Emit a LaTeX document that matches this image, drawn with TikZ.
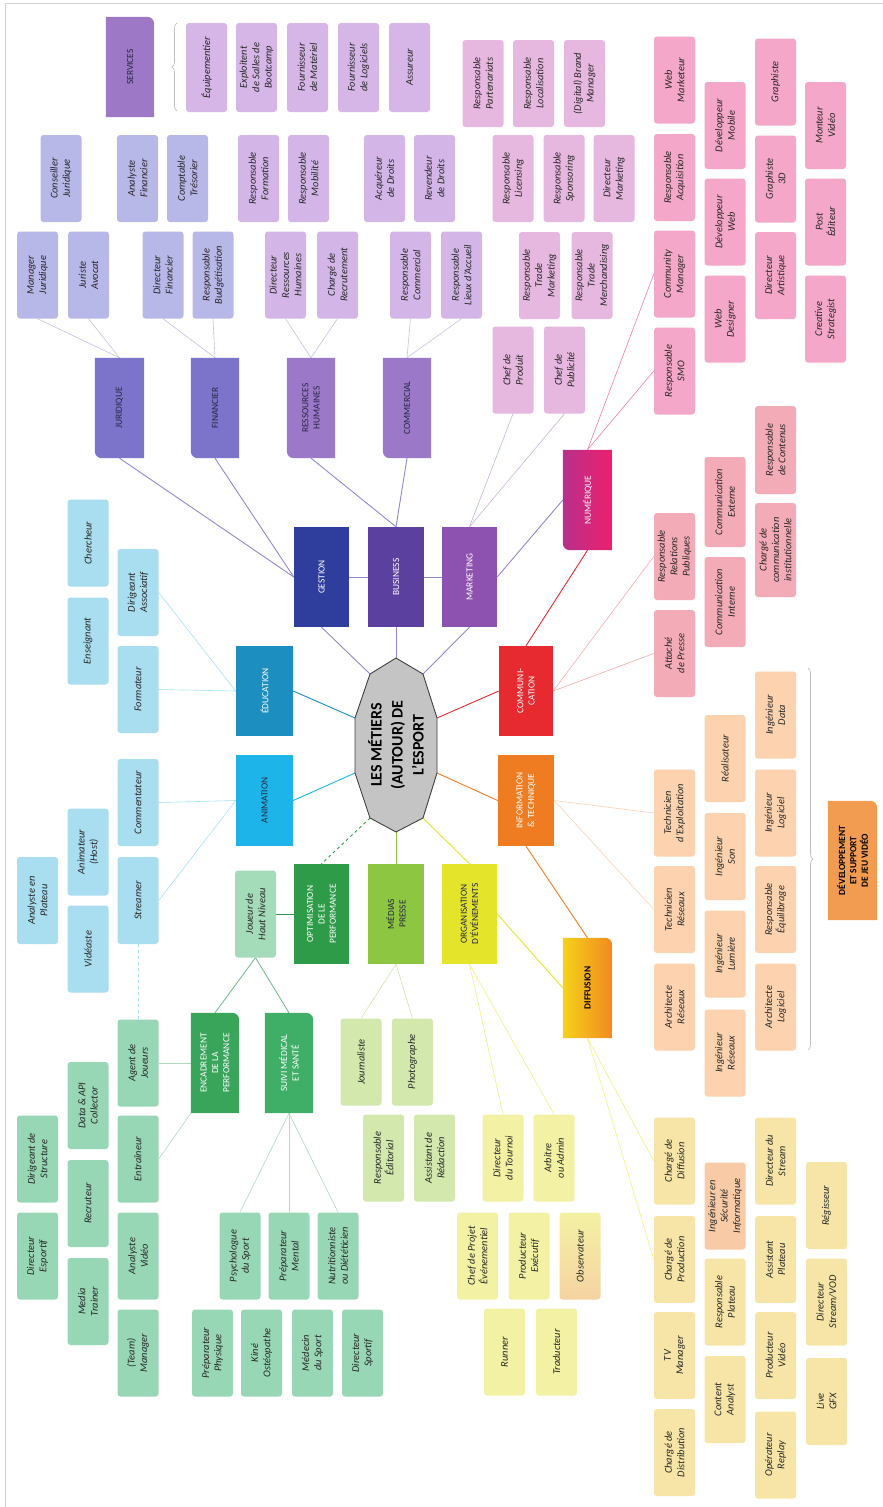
\documentclass[tikz,border=0pt]{standalone}
\usepackage{fontspec}
\setmainfont{Carlito}
\usetikzlibrary{decorations.pathreplacing}
\pgfdeclarelayer{wires}
\pgfdeclarelayer{plates}
\pgfsetlayers{wires,plates,main}

\definecolor{cSvc}{HTML}{9D78C6}
\definecolor{cSvcL}{HTML}{D5B6E6}
\definecolor{cJur}{HTML}{7C74CA}
\definecolor{cJurL}{HTML}{B7B7E8}
\definecolor{cRh}{HTML}{9C78C8}
\definecolor{cRhL}{HTML}{D3B6E7}
\definecolor{cGes}{HTML}{2F3E9C}
\definecolor{cBus}{HTML}{5C40A0}
\definecolor{cMkt}{HTML}{8D52B0}
\definecolor{cMktL}{HTML}{E6B7DF}
\definecolor{cNumA}{HTML}{B8308A}
\definecolor{cNumB}{HTML}{EC1F6E}
\definecolor{cNumL}{HTML}{F4A7C8}
\definecolor{cCom}{HTML}{E62A30}
\definecolor{cComL}{HTML}{F4ABB8}
\definecolor{cInf}{HTML}{F07C22}
\definecolor{cInfL}{HTML}{FCD3AE}
\definecolor{cDev}{HTML}{F29C52}
\definecolor{cDifA}{HTML}{F6D21C}
\definecolor{cDifB}{HTML}{F08A1E}
\definecolor{cDifL}{HTML}{F6E5A6}
\definecolor{cOrg}{HTML}{E4E52B}
\definecolor{cOrgL}{HTML}{F3F1A3}
\definecolor{cObs}{HTML}{F6D3A2}
\definecolor{cMed}{HTML}{8DC641}
\definecolor{cMedL}{HTML}{D2E8AC}
\definecolor{cOpt}{HTML}{2D9B48}
\definecolor{cEnc}{HTML}{38A55B}
\definecolor{cSui}{HTML}{3FAE67}
\definecolor{cPerfL}{HTML}{98D7B5}
\definecolor{cJou}{HTML}{A4DCBA}
\definecolor{cEdu}{HTML}{1C8EC0}
\definecolor{cAni}{HTML}{1DB5E9}
\definecolor{cAniL}{HTML}{A9DDF0}
\definecolor{cSec}{HTML}{F8CBA6}
\definecolor{cCtr}{HTML}{C4C4C4}
\definecolor{cDark}{HTML}{262640}

\newcommand\leaffont{\itshape\fontsize{10.4}{12.4}\selectfont}
\newcommand\catfont{\fontsize{9.4}{11.4}\selectfont}
\newcommand\hubfont{\bfseries\fontsize{16}{21}\selectfont}
% plates with a single rounded corner (bottom-left / top-right as drawn on the page)
\newcommand\plateBL[2]{\fill[#2] (#1.north east) -- (#1.south east) -- (#1.south west) [rounded corners=7pt] -- (#1.north west) [sharp corners] -- cycle;}
\newcommand\plateTR[2]{\fill[#2] (#1.north east) [rounded corners=7pt] -- (#1.south east) [sharp corners] -- (#1.south west) -- (#1.north west) -- cycle;}

\tikzset{
  leaf/.style={rectangle, rounded corners=3pt, rotate=90, minimum width=87, minimum height=41,
    inner sep=1pt, align=center, text=black!85, font=\leaffont},
  lfSvc/.style={leaf, fill=cSvcL, minimum width=89},
  lfJur/.style={leaf, fill=cJurL},
  lfRh/.style={leaf, fill=cRhL},
  lfMkt/.style={leaf, fill=cMktL},
  lfNum/.style={leaf, fill=cNumL},
  lfCom/.style={leaf, fill=cComL},
  lfInf/.style={leaf, fill=cInfL},
  lfDif/.style={leaf, fill=cDifL},
  lfOrg/.style={leaf, fill=cOrgL},
  lfMed/.style={leaf, fill=cMedL},
  lfPerf/.style={leaf, fill=cPerfL},
  lfAni/.style={leaf, fill=cAniL},
  cat/.style={rectangle, rotate=90, inner sep=1pt, align=center, font=\catfont, text=white},
  sz/.style 2 args={minimum width=#1, minimum height=#2},
  hub/.style={rotate=90, align=center, font=\hubfont, text=black, inner sep=0pt},
  hubshape/.style={fill=cCtr, draw=black!75, line width=0.9pt, line join=round},
  lnGes/.style={draw=cJur!85, line width=0.9pt},
  lnGesL/.style={draw=cJur!45, line width=0.6pt},
  lnMktL/.style={draw=cMkt!45, line width=0.6pt},
  lnCom/.style={draw=cCom, line width=0.9pt},
  lnComL/.style={draw=cCom!40, line width=0.6pt},
  lnNumL/.style={draw=cNumB!60, line width=0.6pt},
  lnEdu/.style={draw=cEdu, line width=0.9pt},
  lnAni/.style={draw=cAni, line width=0.9pt},
  lnEduL/.style={draw=cAni!40, line width=0.6pt},
  lnOpt/.style={draw=cOpt, line width=0.9pt},
  lnPerf/.style={draw=cEnc!75, line width=0.8pt},
  lnPerfL/.style={draw=cEnc!40, line width=0.6pt},
  lnMed/.style={draw=cMed, line width=0.9pt},
  lnMedL/.style={draw=cMed!45, line width=0.6pt},
  lnOrg/.style={draw=cOrg, line width=0.9pt},
  lnOrgL/.style={draw=cOrg!60, line width=0.6pt},
  lnInf/.style={draw=cInf, line width=0.9pt},
  lnInfL/.style={draw=cInf!35, line width=0.6pt},
  brc/.style={draw=black!25, line width=0.7pt, decorate, decoration={brace, amplitude=5pt}},
  pageframe/.style={draw=black!18, line width=1pt}
}

\begin{document}
\begin{tikzpicture}[x=1pt, y=-1pt]
\useasboundingbox (0,0) rectangle (883,1507);
\draw[pageframe] (5,1507) -- (5,3) -- (883,3);

% ---------- hub ----------
\coordinate (ptop) at (396,658);
\coordinate (pur) at (423,674);
\coordinate (pr1) at (437,718);
\coordinate (pr2) at (437,773);
\coordinate (plr) at (423,818);
\coordinate (pbot) at (396,832);
\coordinate (pll) at (370,818);
\coordinate (pl2) at (355,773);
\coordinate (pl1) at (355,718);
\coordinate (pul) at (370,674);
\node[hub] (ctr) at (396,745) {LES MÉTIERS\\(AUTOUR) DE\\L'ESPORT};

% ---------- services ----------
\node[cat, sz={100}{48}, text=cDark] (svc) at (130,67) {SERVICES};
\node[lfSvc] (equip) at (206.5,67.5) {Équipementier};
\node[lfSvc] (exploit) at (256.5,67.5) {Exploitent\\de Salles de\\Bootcamp};
\node[lfSvc] (fmat) at (307.5,67.5) {Fournisseur\\de Matériel};
\node[lfSvc] (flog) at (358.5,67.5) {Fournisseur\\de Logiciels};
\node[lfSvc] (assur) at (409.5,67.5) {Assureur};

% ---------- gestion ----------
\node[cat, sz={100}{55}, fill=cGes] (gestion) at (321.5,577) {GESTION};
\node[cat, sz={100}{49}, text=cDark] (juridique) at (119.5,408) {JURIDIQUE};
\node[cat, sz={100}{48}, text=cDark] (financier) at (215,408) {FINANCIER};
\node[lfJur] (conseil) at (61,178.5) {Conseiller\\Juridique};
\node[lfJur] (anafin) at (137.5,178.5) {Analyste\\Financier};
\node[lfJur] (comptable) at (187.5,178.5) {Comptable\\Trésorier};
\node[lfJur] (manjur) at (37.5,275) {Manager\\Juridique};
\node[lfJur] (juriste) at (88.5,275) {Juriste\\Avocat};
\node[lfJur] (dirfin) at (163,275) {Directeur\\Financier};
\node[lfJur] (budget) at (213,275) {Responsable\\Budgétisation};

% ---------- business ----------
\node[cat, sz={100}{56}, fill=cBus] (business) at (396,577) {BUSINESS};
\node[cat, sz={100}{48}, text=cDark] (rh) at (311,408) {RESSOURCES\\HUMAINES};
\node[cat, sz={100}{48}, text=cDark] (commercial) at (407,408) {COMMERCIAL};
\node[lfRh] (formation) at (258.5,178.5) {Responsable\\Formation};
\node[lfRh] (mobilite) at (308.5,178.5) {Responsable\\Mobilité};
\node[lfRh] (acqdroits) at (384.5,178.5) {Acquéreur\\de Droits};
\node[lfRh] (revdroits) at (434.5,178.5) {Revendeur\\de Droits};
\node[lfRh] (dirrh) at (285.5,275) {Directeur\\Ressources\\Humaines};
\node[lfRh] (recrut) at (337.5,275) {Chargé de\\Recrutement};
\node[lfRh] (respcom) at (410.5,275) {Responsable\\Commercial};
\node[lfRh] (lieux) at (461.5,275) {Responsable\\Lieux d'Accueil};

% ---------- marketing ----------
\node[cat, sz={100}{55}, fill=cMkt] (marketing) at (469.5,577) {MARKETING};
\node[lfMkt] (partenariats) at (483,83.5) {Responsable\\Partenariats};
\node[lfMkt] (localisation) at (533.5,83.5) {Responsable\\Localisation};
\node[lfMkt] (brand) at (584.5,83.5) {(Digital) Brand\\Manager};
\node[lfMkt] (licensing) at (513,178.5) {Responsable\\Licensing};
\node[lfMkt] (sponsoring) at (564,178.5) {Responsable\\Sponsoring};
\node[lfMkt] (dirmkt) at (614,178.5) {Directeur\\Marketing};
\node[lfMkt] (trademkt) at (539.5,275.5) {Responsable\\Trade\\Marketing};
\node[lfMkt] (trademerch) at (592,275.5) {Responsable\\Trade\\Merchandising};
\node[lfMkt] (chefprod) at (513,370) {Chef de\\Produit};
\node[lfMkt] (chefpub) at (564.5,370) {Chef de\\Publicité};

% ---------- numérique ----------
\node[cat, sz={100}{49}] (numerique) at (587.5,500) {NUMÉRIQUE};
\node[lfNum] (webmkt) at (674.5,80) {Web\\Marketeur};
\node[lfNum] (acquisition) at (674.5,177.5) {Responsable\\Acquisition};
\node[lfNum] (community) at (674.5,274) {Community\\Manager};
\node[lfNum] (smo) at (674.5,371) {Responsable\\SMO};
\node[lfNum] (devmobile) at (725,125.5) {Développeur\\Mobile};
\node[lfNum] (devweb) at (725,222) {Développeur\\Web};
\node[lfNum] (webdesign) at (725,319) {Web\\Designer};
\node[lfNum] (graphiste) at (775.5,82) {Graphiste};
\node[lfNum] (graph3d) at (775.5,179) {Graphiste\\3D};
\node[lfNum] (dirart) at (775.5,275.5) {Directeur\\Artistique};
\node[lfNum] (monteur) at (825.5,125.5) {Monteur\\Vidéo};
\node[lfNum] (posted) at (825.5,222) {Post\\Éditeur};
\node[lfNum] (creative) at (825.5,319) {Creative\\Strategist};

% ---------- communication ----------
\node[cat, sz={90}{54}, fill=cCom] (communication) at (526,691) {COMMUNI-\\CATION};
\node[lfCom] (rrp) at (674.5,556.5) {Responsable\\Relations\\Publiques};
\node[lfCom] (attache) at (674.5,653.5) {Attaché\\de Presse};
\node[lfCom, minimum width=90] (comext) at (725,502) {Communication\\Externe};
\node[lfCom, minimum width=90] (comint) at (725,602) {Communication\\Interne};
\node[lfCom, minimum width=88] (contenus) at (775.5,450) {Responsable\\de Contenus};
\node[lfCom, minimum width=94] (institution) at (775.5,550) {Chargé de\\communication\\institutionnelle};

% ---------- information & technique ----------
\node[cat, sz={91}{56}, fill=cInf] (information) at (526,800.5) {INFORMATION\\\& TECHNIQUE};
\node[lfInf] (ingdata) at (775.5,715) {Ingénieur\\Data};
\node[lfInf] (realisateur) at (725,758.5) {Réalisateur};
\node[lfInf] (techexpl) at (674.5,813) {Technicien\\d'Exploitation};
\node[lfInf] (techres) at (674.5,909.5) {Technicien\\Réseaux};
\node[lfInf] (archres) at (674.5,1007) {Architecte\\Réseaux};
\node[lfInf] (ingson) at (725,856.5) {Ingénieur\\Son};
\node[lfInf] (inglum) at (725,954) {Ingénieur\\Lumière};
\node[lfInf] (ingres) at (725,1053) {Ingénieur\\Réseaux};
\node[lfInf] (inglog) at (775.5,813) {Ingénieur\\Logiciel};
\node[lfInf] (equilibrage) at (775.5,909.5) {Responsable\\Équilibrage};
\node[lfInf] (archlog) at (775.5,1007) {Architecte\\Logiciel};
\node[cat, sz={119}{49}, text=black, font=\catfont\bfseries] (devjeu) at (852.5,860.5) {DÉVELOPPEMENT\\ET SUPPORT\\DE JEU VIDÉO};

% ---------- diffusion ----------
\node[cat, sz={100}{49}, text=black, font=\catfont\bfseries] (diffusion) at (587.5,988) {DIFFUSION};
\node[lfDif] (chargediff) at (674.5,1161) {Chargé de\\Diffusion};
\node[lfDif] (chargeprod) at (674.5,1259.5) {Chargé de\\Production};
\node[lfDif] (tvman) at (674.5,1355.5) {TV\\Manager};
\node[lfDif] (chargedist) at (674.5,1452.5) {Chargé de\\Distribution};
\node[leaf, fill=cSec] (secu) at (725,1206) {Ingénieur en\\Sécurité\\Informatique};
\node[lfDif] (respplateau) at (725,1302) {Responsable\\Plateau};
\node[lfDif] (content) at (725,1399.5) {Content\\Analyst};
\node[lfDif] (dirstream) at (775.5,1161) {Directeur du\\Stream};
\node[lfDif] (assplateau) at (775.5,1259.5) {Assistant\\Plateau};
\node[lfDif] (prodvideo) at (775.5,1355.5) {Producteur\\Vidéo};
\node[lfDif] (replay) at (775.5,1455) {Opérateur\\Replay};
\node[lfDif] (regisseur) at (826.5,1205.5) {Régisseur};
\node[lfDif] (dirvod) at (826.5,1302) {Directeur\\Stream/VOD};
\node[lfDif] (livegfx) at (826.5,1401.5) {Live\\GFX};

% ---------- organisation d'événements ----------
\node[cat, sz={100}{55}, fill=cOrg, text=cDark] (organisation) at (469.5,914) {ORGANISATION\\D'ÉVÉNEMENTS};
\node[lfOrg] (dirtournoi) at (503,1158) {Directeur\\du Tournoi};
\node[lfOrg] (arbitre) at (554,1158) {Arbitre\\ou Admin};
\node[lfOrg] (chefprojet) at (477.5,1256) {Chef de Projet\\Événementiel};
\node[lfOrg] (prodexec) at (529,1256) {Producteur\\Exécutif};
\node[leaf, top color=cOrgL, bottom color=cObs] (observateur) at (580,1256) {Observateur};
\node[lfOrg] (runner) at (504.5,1352) {Runner};
\node[lfOrg] (traducteur) at (556.5,1352) {Traducteur};

% ---------- médias ----------
\node[cat, sz={100}{56}, fill=cMed, text=cDark] (medias) at (396,914) {MÉDIAS\\PRESSE};
\node[lfMed] (journaliste) at (361,1062) {Journaliste};
\node[lfMed] (photographe) at (412.5,1062) {Photographe};
\node[lfMed] (editorial) at (383.5,1158) {Responsable\\Éditorial};
\node[lfMed] (redaction) at (434.5,1158) {Assistant de\\Rédaction};

% ---------- performance ----------
\node[cat, sz={100}{55}, fill=cOpt] (optimisation) at (321.5,914) {OPTIMISATION\\DE LE\\PERFORMANCE};
\node[leaf, fill=cJou] (joueur) at (255.5,914) {Joueur de\\Haut Niveau};
\node[cat, sz={100}{48}] (encadrement) at (215,1063) {ENCADREMENT\\DE LA\\PERFORMANCE};
\node[cat, sz={100}{48}] (suivi) at (289,1063) {SUIVI MÉDICAL\\ET SANTÉ};
\node[lfPerf] (agent) at (138,1063) {Agent de\\Joueurs};
\node[lfPerf] (datacol) at (88,1105.5) {Data \& API\\Collector};
\node[lfPerf] (dirstruct) at (37.5,1159) {Dirigeant de\\Structure};
\node[lfPerf] (diresport) at (37.5,1256) {Directeur\\Esportif};
\node[lfPerf] (recruteur) at (88,1203.5) {Recruteur};
\node[lfPerf] (mediatrainer) at (88,1301.5) {Media\\Trainer};
\node[lfPerf] (entraineur) at (138,1159) {Entraîneur};
\node[lfPerf] (anavideo) at (138,1256) {Analyste\\Vidéo};
\node[lfPerf] (teamman) at (138,1353) {(Team)\\Manager};
\node[lfPerf] (psycho) at (240,1256) {Psychologue\\du Sport};
\node[lfPerf] (prepmental) at (289,1256) {Préparateur\\Mental};
\node[lfPerf] (nutri) at (338,1256) {Nutritionniste\\ou Diététicien};
\node[lfPerf] (prepphys) at (212.5,1353) {Préparateur\\Physique};
\node[lfPerf] (kine) at (261.5,1353) {Kiné\\Ostéopathe};
\node[lfPerf] (medecin) at (312.5,1353) {Médecin\\du Sport};
\node[lfPerf] (dirsportif) at (362.5,1353) {Directeur\\Sportif};

% ---------- éducation / animation ----------
\node[cat, sz={90}{57}, fill=cEdu] (education) at (264.5,691) {ÉDUCATION};
\node[cat, sz={91}{57}, fill=cAni, text=cDark] (animation) at (264.5,800.5) {ANIMATION};
\node[lfAni] (chercheur) at (88,543) {Chercheur};
\node[lfAni] (enseignant) at (88,641) {Enseignant};
\node[lfAni] (dirasso) at (138,592.5) {Dirigeant\\Associatif};
\node[lfAni] (formateur) at (138,689.5) {Formateur};
\node[lfAni] (commentateur) at (138,802.5) {Commentateur};
\node[lfAni] (streamer) at (138,900.5) {Streamer};
\node[lfAni] (animateur) at (88,852) {Animateur\\(Host)};
\node[lfAni] (videaste) at (88,949) {Vidéaste};
\node[lfAni] (analplateau) at (37.5,900.5) {Analyste en\\Plateau};

% ---------- plates under the category labels ----------
\begin{pgfonlayer}{plates}
  \filldraw[hubshape] (ptop) -- (pur) -- (pr1) -- (pr2) -- (plr) -- (pbot) -- (pll) -- (pl2) -- (pl1) -- (pul) -- cycle;
  \plateTR{svc}{cSvc}
  \plateBL{juridique}{cJur}
  \plateBL{financier}{cJur}
  \plateBL{rh}{cRh}
  \plateBL{commercial}{cRh}
  \shade[left color=cNumA, right color=cNumB] (numerique.north east) -- (numerique.south east) -- (numerique.south west) [rounded corners=7pt] -- (numerique.north west) [sharp corners] -- cycle;
  \shade[left color=cDifA, right color=cDifB] (diffusion.north east) [rounded corners=7pt] -- (diffusion.south east) [sharp corners] -- (diffusion.south west) -- (diffusion.north west) -- cycle;
  \plateTR{devjeu}{cDev}
  \plateTR{encadrement}{cEnc}
  \plateTR{suivi}{cSui}
  % braces grouping the service and game-development trades
  \draw[brc] (177,111) -- (177,23);
  \draw[brc] (808,668) -- (808,1050);
\end{pgfonlayer}

% ---------- connectors ----------
\begin{pgfonlayer}{wires}
  \draw[lnGes] (pul) -- (gestion.west);
  \draw[lnGes] (ptop) -- (business.west);
  \draw[lnGes] (pur) -- (marketing.west);
  \draw[lnGes] (gestion.south) -- (business.north);
  \draw[lnGes] (business.south) -- (marketing.north);
  \draw[lnGes] (gestion.north) -- (juridique.west);
  \draw[lnGes] (gestion.north) -- (financier.west);
  \draw[lnGes] (business.east) -- (rh.west);
  \draw[lnGes] (business.east) -- (commercial.west);
  \draw[lnGes] (marketing.south) -- (numerique.north);
  \draw[lnMktL] (marketing.east) -- (chefprod.west);
  \draw[lnMktL] (marketing.east) -- (chefpub.west);
  \draw[lnGesL] (juridique.east) -- (manjur.west);
  \draw[lnGesL] (juridique.east) -- (juriste.west);
  \draw[lnGesL] (financier.east) -- (dirfin.west);
  \draw[lnGesL] (financier.east) -- (budget.west);
  \draw[lnGesL] (rh.east) -- (dirrh.west);
  \draw[lnGesL] (rh.east) -- (recrut.west);
  \draw[lnGesL] (commercial.east) -- (respcom.west);
  \draw[lnGesL] (commercial.east) -- (lieux.west);
  \draw[lnCom] (pr1) -- (communication.north);
  \draw[lnCom] (communication.east) -- (numerique.west);
  \draw[lnComL] (communication.south) -- (rrp.north);
  \draw[lnComL] (communication.south) -- (attache.north);
  \draw[lnNumL] (numerique.east) -- (community.north);
  \draw[lnNumL] (numerique.east) -- (smo.north);
  \draw[lnEdu] (pl1) -- (education.south);
  \draw[lnEduL] (education.north) -- (formateur.south);
  \draw[lnEduL] (education.north) -- (dirasso.south);
  \draw[lnAni] (pl2) -- (animation.south);
  \draw[lnEduL] (animation.north) -- (commentateur.south);
  \draw[lnEduL] (animation.north) -- (streamer.south);
  \draw[lnEduL, dashed] (streamer.west) -- (agent.east);
  \draw[lnOpt, dashed] (pll) -- (optimisation.east);
  \draw[lnOpt] (optimisation.north) -- (joueur.south);
  \draw[lnPerf] (joueur.west) -- (encadrement.east);
  \draw[lnPerf] (joueur.west) -- (suivi.east);
  \draw[lnPerfL] (encadrement.north) -- (agent.south);
  \draw[lnPerfL] (encadrement.north west) -- (entraineur.south);
  \draw[lnPerfL] (suivi.west) -- (psycho.east);
  \draw[lnPerfL] (suivi.west) -- (prepmental.east);
  \draw[lnPerfL] (suivi.west) -- (nutri.east);
  \draw[lnMed] (pbot) -- (medias.east);
  \draw[lnMedL] (medias.west) -- (journaliste.east);
  \draw[lnMedL] (medias.west) -- (photographe.east);
  \draw[lnOrg] (plr) -- (organisation.east);
  \draw[lnOrg] (organisation.south) -- (diffusion.north);
  \draw[lnOrgL] (organisation.west) -- (dirtournoi.east);
  \draw[lnOrgL] (organisation.west) -- (arbitre.east);
  \draw[lnInf] (pr2) -- (information.north);
  \draw[lnInf] (information.west) -- (diffusion.east);
  \draw[lnInfL] (information.south) -- (techexpl.north);
  \draw[lnInfL] (information.south) -- (techres.north);
  \draw[lnOrgL] (diffusion.west) -- (chargediff.north);
  \draw[lnOrgL] (diffusion.west) -- (chargeprod.north);
\end{pgfonlayer}
\end{tikzpicture}
\end{document}
